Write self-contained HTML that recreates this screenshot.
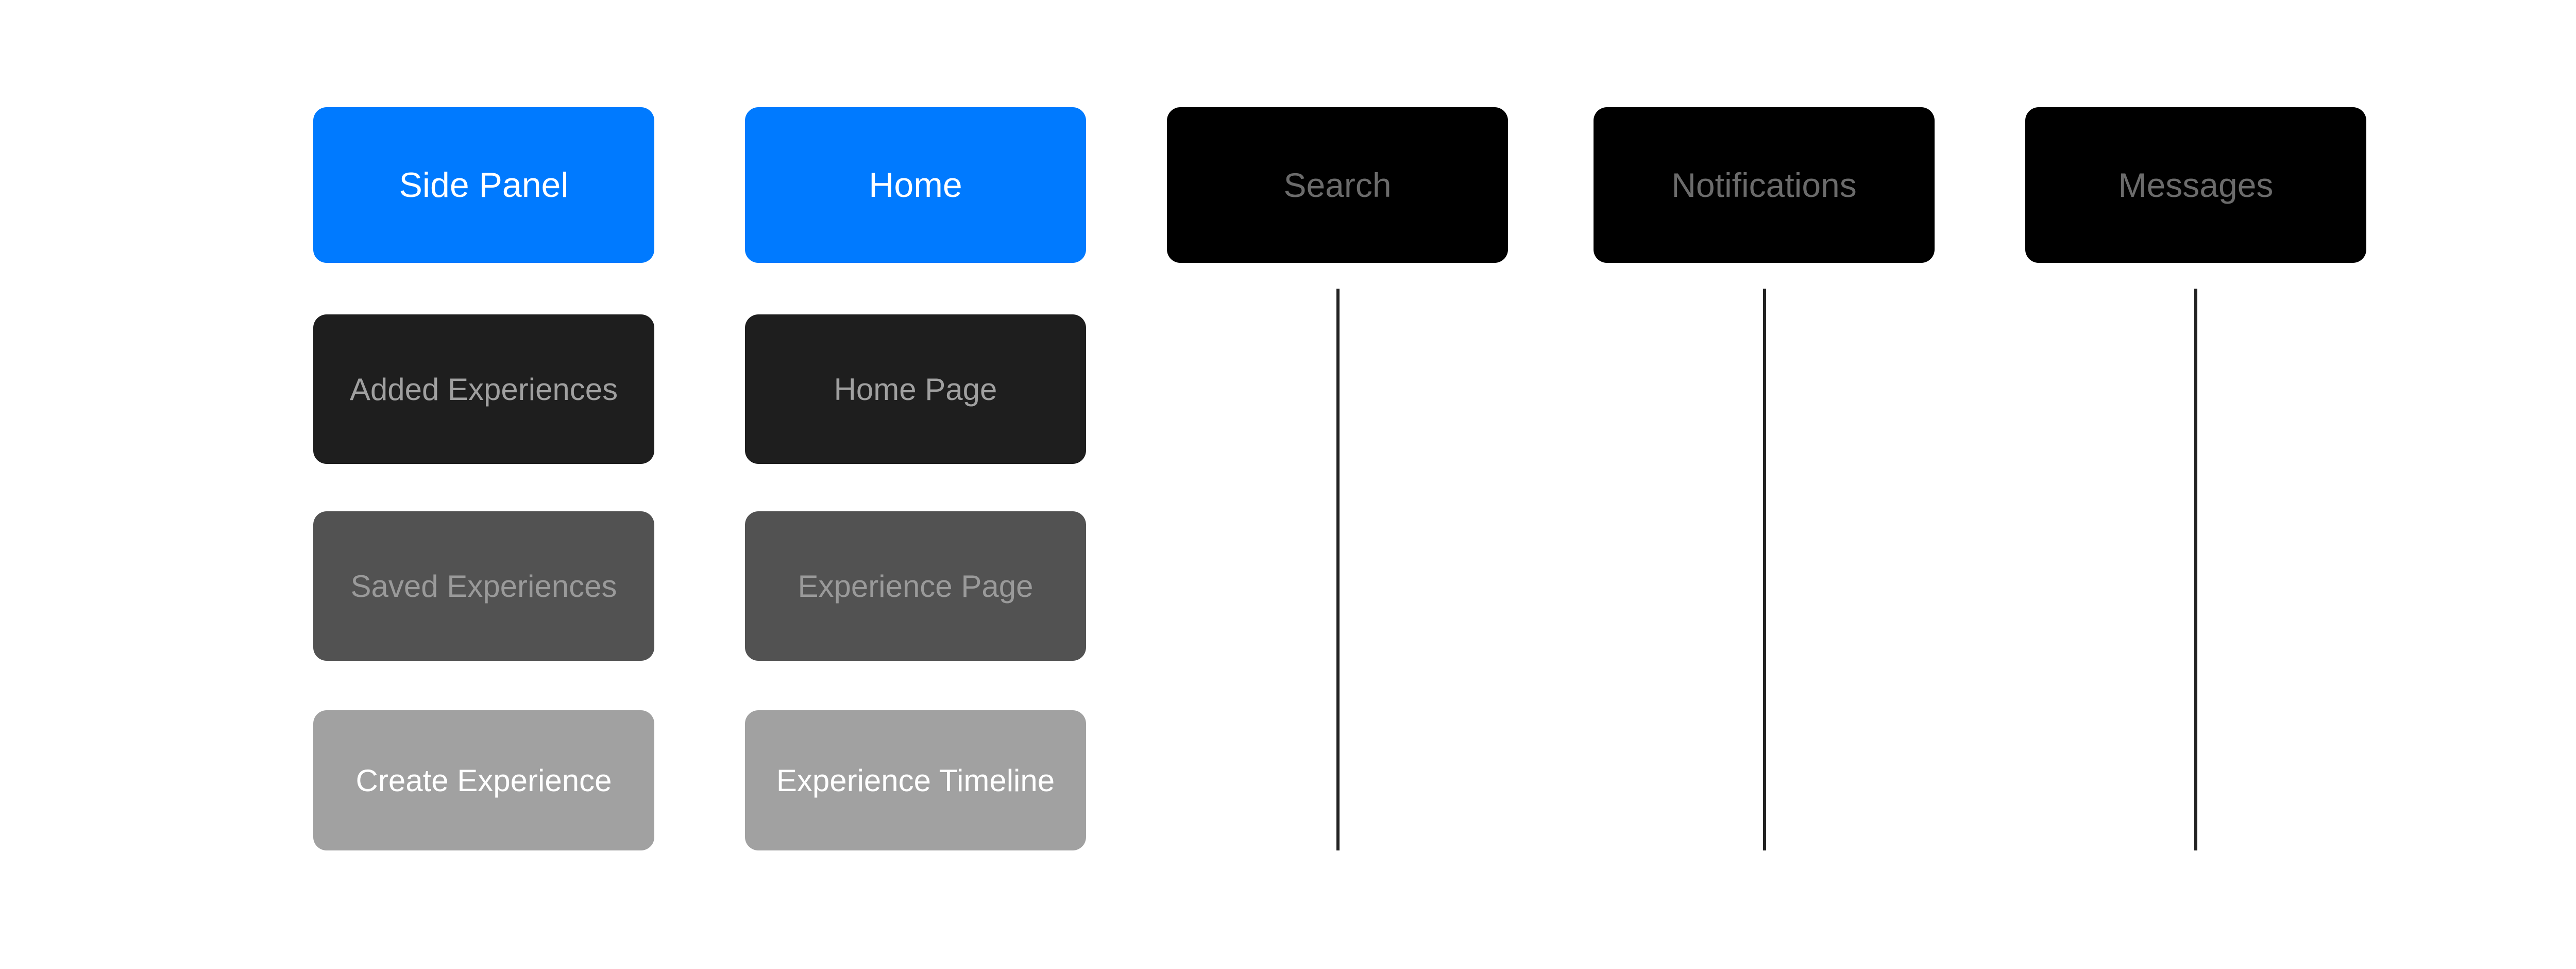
<!DOCTYPE html>
<html><head><meta charset="utf-8"><style>
html,body{margin:0;padding:0;background:#fff;}
body{width:5184px;height:1880px;position:relative;overflow:hidden;font-family:"Liberation Sans",sans-serif;}
.b{position:absolute;width:662px;border-radius:26px;display:flex;align-items:center;justify-content:center;font-size:60px;}
.blue{background:#007aff;color:#fff;font-size:68px;}
.blk{background:#000;color:#6b6b6b;font-size:66px;}
.d1{background:#1e1e1e;color:#a0a0a0;}
.d2{background:#525252;color:#9a9a9a;}
.d3{background:#a1a1a1;color:#fff;}
.ln{position:absolute;width:6px;background:#222;top:560px;height:1090px;}
</style></head><body>
<div class="b blue" style="left:608px;top:208px;height:302px">Side Panel</div>
<div class="b blue" style="left:1446px;top:208px;height:302px">Home</div>
<div class="b blk" style="left:2265px;top:208px;height:302px">Search</div>
<div class="b blk" style="left:3093px;top:208px;height:302px">Notifications</div>
<div class="b blk" style="left:3931px;top:208px;height:302px">Messages</div>

<div class="b d1" style="left:608px;top:610px;height:290px">Added Experiences</div>
<div class="b d1" style="left:1446px;top:610px;height:290px">Home Page</div>
<div class="b d2" style="left:608px;top:992px;height:290px">Saved Experiences</div>
<div class="b d2" style="left:1446px;top:992px;height:290px">Experience Page</div>
<div class="b d3" style="left:608px;top:1378px;height:272px">Create Experience</div>
<div class="b d3" style="left:1446px;top:1378px;height:272px">Experience Timeline</div>

<div class="ln" style="left:2594px"></div>
<div class="ln" style="left:3422px"></div>
<div class="ln" style="left:4259px"></div>
</body></html>
